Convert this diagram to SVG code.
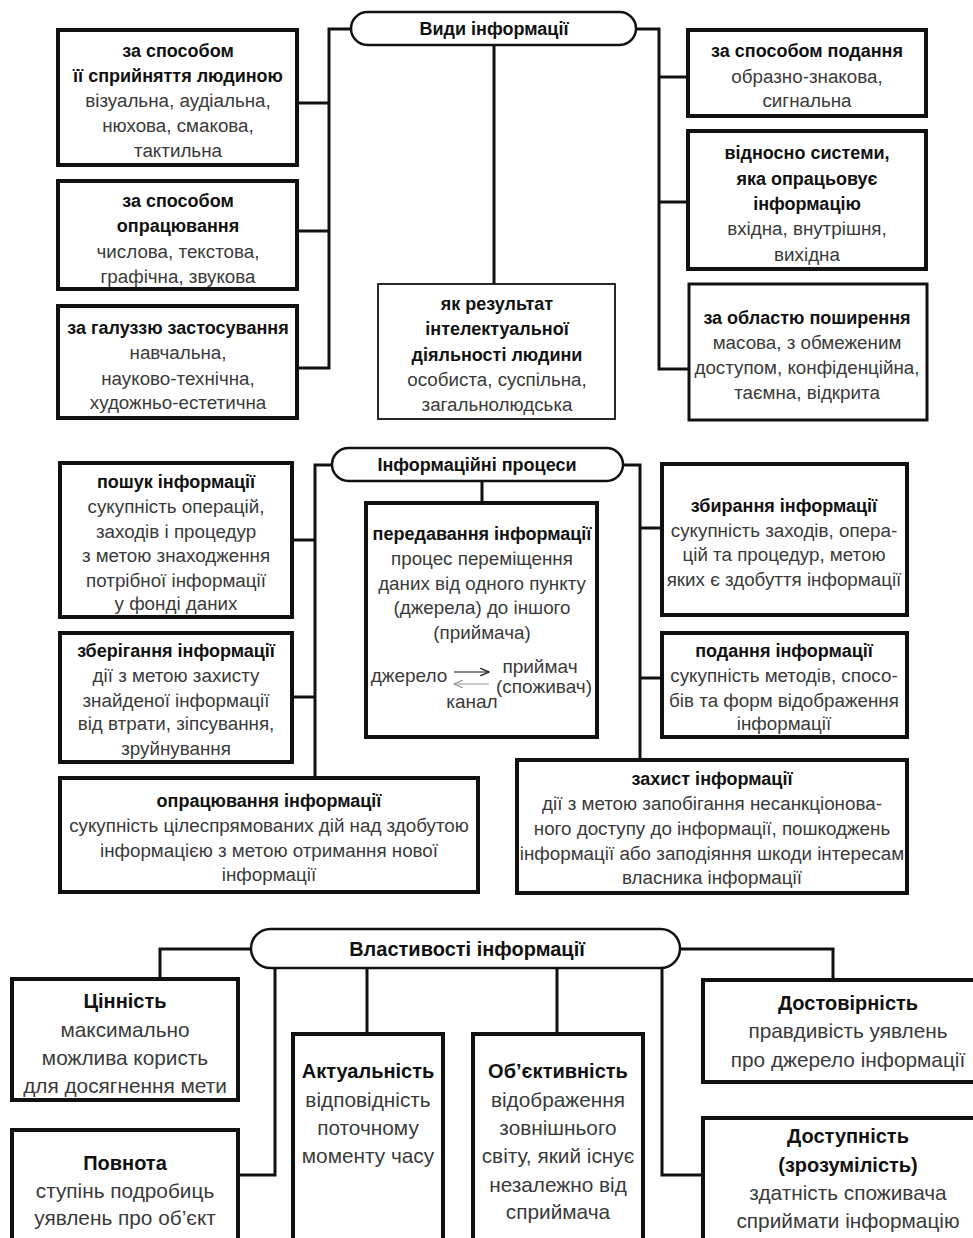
<svg xmlns="http://www.w3.org/2000/svg" width="973" height="1238" viewBox="0 0 973 1238">
<defs>
<style>
.box{fill:#fff;stroke:#111;stroke-width:4}
.mid{fill:#fff;stroke:#111;stroke-width:3}
.thin{fill:#fff;stroke:#111;stroke-width:1.8}
.pill{fill:#fff;stroke:#111;stroke-width:2.5}
.conn{fill:none;stroke:#111;stroke-width:3}
text{font-family:"Liberation Sans",Arial,sans-serif;text-anchor:middle}
.b{font-weight:bold;fill:#111;font-size:18px}
.r{fill:#3a3a3a;font-size:18.8px}
.t{font-weight:bold;fill:#111;font-size:18px}
.b3{font-weight:bold;fill:#111;font-size:20px}
.r3{fill:#3a3a3a;font-size:20.8px}
.s{fill:#3a3a3a;font-size:19px}
</style>
<marker id="ah" markerWidth="10" markerHeight="8" refX="9" refY="4" orient="auto" markerUnits="userSpaceOnUse">
<path d="M0,0 L9,4 L0,8" fill="none" stroke="#111" stroke-width="1.2"/>
</marker>
<marker id="ahg" markerWidth="10" markerHeight="8" refX="9" refY="4" orient="auto" markerUnits="userSpaceOnUse">
<path d="M0,0 L9,4 L0,8" fill="none" stroke="#999" stroke-width="1.2"/>
</marker>
</defs>
<rect width="973" height="1238" fill="#fff"/>

<g id="connectors">
<!-- section 1 -->
<path class="conn" d="M351,29 H329 V368 H297 M329,103 H297 M329,231 H297"/>
<path class="conn" d="M636,29 H659 V369 H689 M659,77 H688 M659,202 H688"/>
<path class="conn" d="M494,45 V284"/>
<!-- section 2 -->
<path class="conn" d="M332,465 H315 V778 M315,540 H292 M315,697 H292"/>
<path class="conn" d="M623,465 H640 V760 M640,528 H662 M640,678 H662"/>
<path class="conn" d="M482,481 V503"/>
<!-- section 3 -->
<path class="conn" d="M251,949 H160 V979"/>
<path class="conn" d="M275,968 V1175 H240"/>
<path class="conn" d="M367,968 V1034"/>
<path class="conn" d="M557,968 V1034"/>
<path class="conn" d="M662,968 V1175 H703"/>
<path class="conn" d="M680,949 H833 V980"/>
</g>

<!-- Section 1 -->
<g id="vydy">
<rect class="pill" x="351" y="12" width="285" height="33" rx="16.5"/>
<text class="t" x="494" y="35">Види інформації</text>
</g>
<g id="spryiniattia">
<rect class="box" x="58" y="30" width="239" height="135"/>
<text class="b" x="178" y="57">за способом</text>
<text class="b" x="178" y="82">її сприйняття людиною</text>
<text class="r" x="178" y="107">візуальна, аудіальна,</text>
<text class="r" x="178" y="132">нюхова, смакова,</text>
<text class="r" x="178" y="157">тактильна</text>
</g>
<g id="opratsiuvannia">
<rect class="box" x="58" y="181" width="239" height="108"/>
<text class="b" x="178" y="207">за способом</text>
<text class="b" x="178" y="232">опрацювання</text>
<text class="r" x="178" y="258">числова, текстова,</text>
<text class="r" x="178" y="283">графічна, звукова</text>
</g>
<g id="haluz">
<rect class="box" x="58" y="306" width="239" height="112"/>
<text class="b" x="178" y="334">за галуззю застосування</text>
<text class="r" x="178" y="359">навчальна,</text>
<text class="r" x="178" y="385">науково-технічна,</text>
<text class="r" x="178" y="409">художньо-естетична</text>
</g>
<g id="rezultat">
<rect class="thin" x="378" y="284" width="237" height="135"/>
<text class="b" x="497" y="310">як результат</text>
<text class="b" x="497" y="335">інтелектуальної</text>
<text class="b" x="497" y="361">діяльності людини</text>
<text class="r" x="497" y="386">особиста, суспільна,</text>
<text class="r" x="497" y="411">загальнолюдська</text>
</g>
<g id="podannia">
<rect class="box" x="688" y="30" width="238" height="86"/>
<text class="b" x="807" y="57">за способом подання</text>
<text class="r" x="807" y="83">образно-знакова,</text>
<text class="r" x="807" y="107">сигнальна</text>
</g>
<g id="systema">
<rect class="box" x="688" y="131" width="238" height="138"/>
<text class="b" x="807" y="159">відносно системи,</text>
<text class="b" x="807" y="185">яка опрацьовує</text>
<text class="b" x="807" y="210">інформацію</text>
<text class="r" x="807" y="235">вхідна, внутрішня,</text>
<text class="r" x="807" y="261">вихідна</text>
</g>
<g id="oblast">
<rect class="mid" x="689" y="284" width="238" height="136"/>
<text class="b" x="807" y="324">за областю поширення</text>
<text class="r" x="807" y="349">масова, з обмеженим</text>
<text class="r" x="807" y="374">доступом, конфіденційна,</text>
<text class="r" x="807" y="399">таємна, відкрита</text>
</g>

<!-- Section 2 -->
<g id="protsesy">
<rect class="pill" x="332" y="448" width="291" height="33" rx="16.5"/>
<text class="t" x="477" y="471">Інформаційні процеси</text>
</g>
<g id="poshuk">
<rect class="box" x="60" y="463" width="232" height="154"/>
<text class="b" x="176" y="488">пошук інформації</text>
<text class="r" x="176" y="513">сукупність операцій,</text>
<text class="r" x="176" y="538">заходів і процедур</text>
<text class="r" x="176" y="562">з метою знаходження</text>
<text class="r" x="176" y="587">потрібної інформації</text>
<text class="r" x="176" y="610">у фонді даних</text>
</g>
<g id="zberihannia">
<rect class="box" x="60" y="633" width="232" height="129"/>
<text class="b" x="176" y="657">зберігання інформації</text>
<text class="r" x="176" y="682">дії з метою захисту</text>
<text class="r" x="176" y="707">знайденої інформації</text>
<text class="r" x="176" y="730">від втрати, зіпсування,</text>
<text class="r" x="176" y="755">зруйнування</text>
</g>
<g id="opratsiuvannia-inf">
<rect class="box" x="60" y="778" width="418" height="114"/>
<text class="b" x="269" y="807">опрацювання інформації</text>
<text class="r" x="269" y="832">сукупність цілеспрямованих дій над здобутою</text>
<text class="r" x="269" y="857">інформацією з метою отримання нової</text>
<text class="r" x="269" y="881">інформації</text>
</g>
<g id="peredavannia">
<rect class="box" x="366" y="503" width="231" height="234"/>
<text class="b" x="482" y="540">передавання інформації</text>
<text class="r" x="482" y="565">процес переміщення</text>
<text class="r" x="482" y="590">даних від одного пункту</text>
<text class="r" x="482" y="614">(джерела) до іншого</text>
<text class="r" x="482" y="639">(приймача)</text>
<text class="s" x="409" y="682">джерело</text>
<text class="s" x="540" y="673">приймач</text>
<text class="s" x="544" y="693">(споживач)</text>
<text class="s" x="472" y="708">канал</text>
<line x1="454" y1="672" x2="489" y2="672" stroke="#111" stroke-width="1.2" marker-end="url(#ah)"/>
<line x1="489" y1="684" x2="454" y2="684" stroke="#999" stroke-width="1.2" marker-end="url(#ahg)"/>
</g>
<g id="zbyrannia">
<rect class="box" x="662" y="464" width="245" height="151"/>
<text class="b" x="784" y="512">збирання інформації</text>
<text class="r" x="784" y="537">сукупність заходів, опера-</text>
<text class="r" x="784" y="561">цій та процедур, метою</text>
<text class="r" x="784" y="586">яких є здобуття інформації</text>
</g>
<g id="podannia-inf">
<rect class="box" x="662" y="633" width="245" height="104"/>
<text class="b" x="784" y="657">подання інформації</text>
<text class="r" x="784" y="682">сукупність методів, спосо-</text>
<text class="r" x="784" y="707">бів та форм відображення</text>
<text class="r" x="784" y="730">інформації</text>
</g>
<g id="zakhyst">
<rect class="box" x="517" y="760" width="390" height="133"/>
<text class="b" x="712" y="785">захист інформації</text>
<text class="r" x="712" y="810">дії з метою запобігання несанкціонова-</text>
<text class="r" x="712" y="835">ного доступу до інформації, пошкоджень</text>
<text class="r" x="712" y="860">інформації або заподіяння шкоди інтересам</text>
<text class="r" x="712" y="884">власника інформації</text>
</g>

<!-- Section 3 -->
<g id="vlastyvosti">
<rect class="pill" x="251" y="929" width="429" height="39" rx="19.5"/>
<text class="b3" x="467" y="956">Властивості інформації</text>
</g>
<g id="tsinnist">
<rect class="box" x="12" y="979" width="226" height="121"/>
<text class="b3" x="125" y="1008">Цінність</text>
<text class="r3" x="125" y="1037">максимально</text>
<text class="r3" x="125" y="1065">можлива користь</text>
<text class="r3" x="125" y="1093">для досягнення мети</text>
</g>
<g id="povnota">
<rect class="box" x="12" y="1130" width="226" height="130"/>
<text class="b3" x="125" y="1170">Повнота</text>
<text class="r3" x="125" y="1198">ступінь подробиць</text>
<text class="r3" x="125" y="1225">уявлень про об’єкт</text>
</g>
<g id="aktualnist">
<rect class="box" x="293" y="1034" width="150" height="226"/>
<text class="b3" x="368" y="1078">Актуальність</text>
<text class="r3" x="368" y="1107">відповідність</text>
<text class="r3" x="368" y="1135">поточному</text>
<text class="r3" x="368" y="1163">моменту часу</text>
</g>
<g id="obiektyvnist">
<rect class="box" x="473" y="1034" width="170" height="226"/>
<text class="b3" x="558" y="1078">Об’єктивність</text>
<text class="r3" x="558" y="1107">відображення</text>
<text class="r3" x="558" y="1135">зовнішнього</text>
<text class="r3" x="558" y="1163">світу, який існує</text>
<text class="r3" x="558" y="1192">незалежно від</text>
<text class="r3" x="558" y="1219">сприймача</text>
</g>
<g id="dostovirnist">
<rect class="box" x="703" y="980" width="290" height="102"/>
<text class="b3" x="848" y="1010">Достовірність</text>
<text class="r3" x="848" y="1038">правдивість уявлень</text>
<text class="r3" x="848" y="1067">про джерело інформації</text>
</g>
<g id="dostupnist">
<rect class="box" x="703" y="1118" width="290" height="140"/>
<text class="b3" x="848" y="1143">Доступність</text>
<text class="b3" x="848" y="1172">(зрозумілість)</text>
<text class="r3" x="848" y="1200">здатність споживача</text>
<text class="r3" x="848" y="1228">сприймати інформацію</text>
</g>
</svg>
